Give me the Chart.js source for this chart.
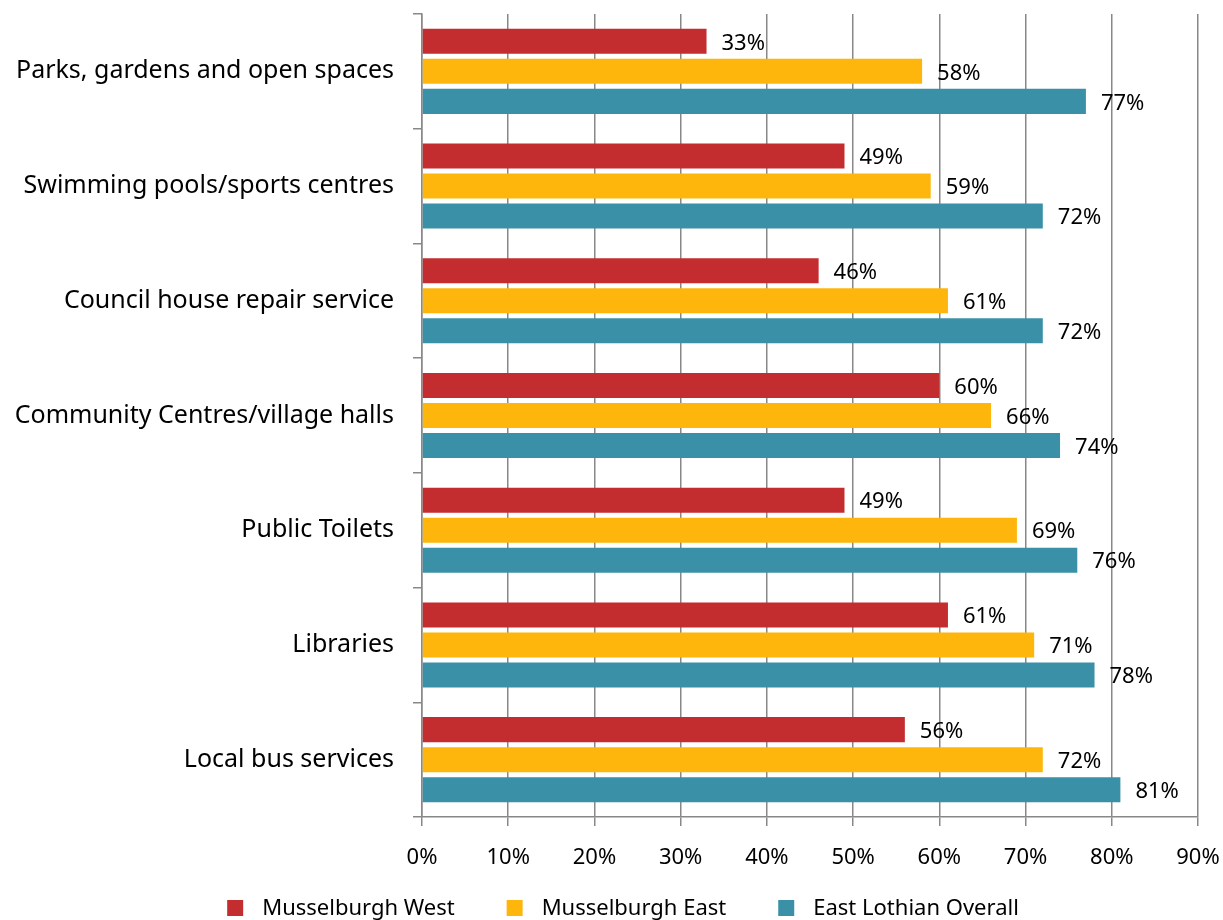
<!DOCTYPE html>
<html>
<head>
<meta charset="utf-8">
<script src="https://cdn.jsdelivr.net/npm/chart.js@4.4.1/dist/chart.umd.min.js"></script>
<style>
  html, body { margin: 0; padding: 0; background: #fff; }
  #wrap { width: 1223px; height: 920px; }
</style>
</head>
<body>
<div id="wrap"><canvas id="chart"></canvas></div>
<script>
// Services, top to bottom
const categories = [
    'Parks, gardens and open spaces',
    'Swimming pools/sports centres',
    'Council house repair service',
    'Community Centres/village halls',
    'Public Toilets',
    'Libraries',
    'Local bus services'
];
const seriesNames = ['Musselburgh West', 'Musselburgh East', 'East Lothian Overall'];
const westValues = [33, 49, 46, 60, 49, 61, 56];
const eastValues = [58, 59, 61, 66, 69, 71, 72];
const overallValues = [77, 72, 72, 74, 76, 78, 81];
const xTicks = [0, 10, 20, 30, 40, 50, 60, 70, 80, 90];

const FONT = '"Noto Sans", "Open Sans", sans-serif';
const GRID = '#888888';

// draws "NN%" to the right of each bar
const valueLabels = {
    id: 'valueLabels',
    afterDatasetsDraw(chart) {
        const ctx = chart.ctx;
        ctx.save();
        ctx.font = '22px ' + FONT;
        ctx.fillStyle = '#000';
        ctx.textAlign = 'left';
        ctx.textBaseline = 'middle';
        chart.data.datasets.forEach((ds, i) => {
            chart.getDatasetMeta(i).data.forEach((bar, j) => {
                ctx.fillText(ds.data[j] + '%', bar.x + 15, bar.y + 2);
            });
        });
        ctx.restore();
    }
};

// bottom legend, spaced like the original (box, wide gap, text)
const bottomLegend = {
    id: 'bottomLegend',
    afterDraw(chart) {
        const ctx = chart.ctx;
        const box = 16, gapText = 19, gapItem = 52, y = 908;
        ctx.save();
        ctx.font = '22px ' + FONT;
        ctx.textBaseline = 'middle';
        ctx.textAlign = 'left';
        const items = chart.data.datasets.map(ds => ({
            text: ds.label, color: ds.backgroundColor, w: ctx.measureText(ds.label).width
        }));
        const total = items.reduce((s, it) => s + box + gapText + it.w, 0) + gapItem * (items.length - 1);
        let x = 623 - total / 2;
        items.forEach(it => {
            ctx.fillStyle = it.color;
            ctx.fillRect(x, y - box / 2, box, box);
            ctx.fillStyle = '#000';
            ctx.fillText(it.text, x + box + gapText, y + 1);
            x += box + gapText + it.w + gapItem;
        });
        ctx.restore();
    }
};

new Chart(document.getElementById('chart'), {
    type: 'bar',
    data: {
        labels: categories,
        datasets: [
            { label: seriesNames[0], data: westValues, backgroundColor: '#C32D2F' },
            { label: seriesNames[1], data: eastValues, backgroundColor: '#FFB60C' },
            { label: seriesNames[2], data: overallValues, backgroundColor: '#3A91A7' }
        ]
    },
    options: {
        indexAxis: 'y',
        responsive: true,
        maintainAspectRatio: false,
        animation: false,
        categoryPercentage: 0.785,
        barPercentage: 0.833,
        layout: { padding: { top: 14, right: 25, bottom: 43, left: 0 } },
        plugins: {
            legend: { display: false },
            tooltip: { enabled: false }
        },
        scales: {
            x: {
                min: 0,
                max: 90,
                afterBuildTicks(scale) { scale.ticks = xTicks.map(v => ({ value: v })); },
                afterFit(scale) {
                    scale.height = 60;
                    scale.paddingLeft = 0;
                    scale.paddingRight = 0;
                },
                ticks: {
                    color: '#000',
                    padding: 19,
                    font: { family: FONT, size: 22 },
                    callback: v => v + '%'
                },
                grid: { color: GRID, lineWidth: 1.5, tickLength: 9 },
                border: { color: GRID, width: 1.5 }
            },
            y: {
                afterFit(scale) {
                    scale.width = 422;
                    scale.paddingTop = 0;
                    scale.paddingBottom = 0;
                },
                ticks: {
                    color: '#000',
                    padding: 19,
                    font: { family: FONT, size: 25 }
                },
                grid: { color: GRID, lineWidth: 1.5, tickLength: 9, drawOnChartArea: false, offset: true },
                border: { color: GRID, width: 1.5 }
            }
        }
    },
    plugins: [valueLabels, bottomLegend]
});
</script>
</body>
</html>
